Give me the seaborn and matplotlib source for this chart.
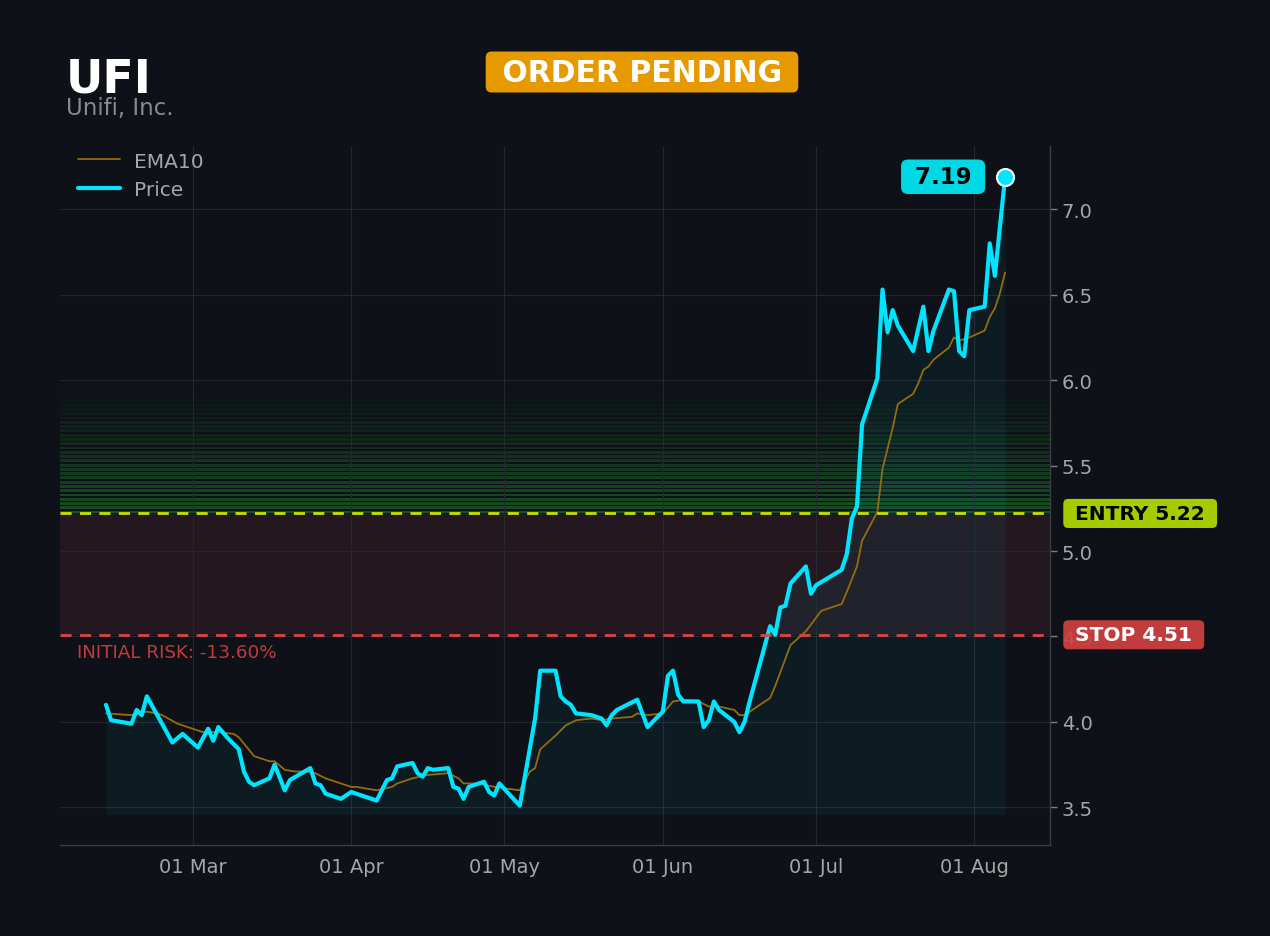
import matplotlib
matplotlib.use("Agg")
import matplotlib.pyplot as plt
import matplotlib.dates as mdates
import matplotlib.transforms as mtransforms
import seaborn as sns
import pandas as pd

# Daten
ticker = "UFI"
company = "Unifi, Inc."
status = "ORDER PENDING"
entry = 5.22
stop = 4.51
risk_text = "INITIAL RISK: -13.60%"

price_dates = [
    "2025-02-12", "2025-02-13", "2025-02-17", "2025-02-18", "2025-02-19", "2025-02-20", "2025-02-25", "2025-02-27",
    "2025-03-02", "2025-03-04", "2025-03-05", "2025-03-06", "2025-03-08", "2025-03-10", "2025-03-11", "2025-03-12",
    "2025-03-13", "2025-03-16", "2025-03-17", "2025-03-19", "2025-03-20", "2025-03-24", "2025-03-25", "2025-03-26",
    "2025-03-27", "2025-03-30",
    "2025-04-01", "2025-04-06", "2025-04-08", "2025-04-09", "2025-04-10", "2025-04-13", "2025-04-14", "2025-04-15",
    "2025-04-16", "2025-04-17", "2025-04-20", "2025-04-21", "2025-04-22", "2025-04-23", "2025-04-24", "2025-04-27",
    "2025-04-28", "2025-04-29", "2025-04-30",
    "2025-05-04", "2025-05-07", "2025-05-08", "2025-05-11", "2025-05-12", "2025-05-13", "2025-05-14", "2025-05-15",
    "2025-05-18", "2025-05-20", "2025-05-21", "2025-05-22", "2025-05-23", "2025-05-27", "2025-05-29",
    "2025-06-01", "2025-06-02", "2025-06-03", "2025-06-04", "2025-06-05", "2025-06-08", "2025-06-09", "2025-06-10",
    "2025-06-11", "2025-06-12", "2025-06-15", "2025-06-16", "2025-06-17", "2025-06-18", "2025-06-22", "2025-06-23",
    "2025-06-24", "2025-06-25", "2025-06-26", "2025-06-29", "2025-06-30",
    "2025-07-01", "2025-07-06", "2025-07-07", "2025-07-08", "2025-07-09", "2025-07-10", "2025-07-13", "2025-07-14",
    "2025-07-15", "2025-07-16", "2025-07-17", "2025-07-20", "2025-07-22", "2025-07-23", "2025-07-24", "2025-07-27",
    "2025-07-28", "2025-07-29", "2025-07-30", "2025-07-31",
    "2025-08-03", "2025-08-04", "2025-08-05", "2025-08-07",
]
price_values = [
    4.10, 4.01, 3.99, 4.07, 4.04, 4.15, 3.88, 3.93,
    3.85, 3.96, 3.89, 3.97, 3.90, 3.84, 3.71, 3.65, 3.63, 3.67, 3.75, 3.60, 3.66, 3.73, 3.64, 3.63, 3.58, 3.55,
    3.59, 3.54, 3.66, 3.67, 3.74, 3.76, 3.70, 3.68, 3.73, 3.72, 3.73, 3.62, 3.61, 3.55, 3.62, 3.65, 3.59, 3.57, 3.64,
    3.51, 4.02, 4.30, 4.30, 4.15, 4.12, 4.10, 4.05, 4.04, 4.02, 3.98, 4.04, 4.07, 4.13, 3.97,
    4.06, 4.27, 4.30, 4.16, 4.12, 4.12, 3.97, 4.01, 4.12, 4.07, 4.00, 3.94, 4.00, 4.12, 4.56, 4.51, 4.67, 4.68,
    4.81, 4.91, 4.75,
    4.80, 4.89, 4.98, 5.19, 5.26, 5.74, 6.01, 6.53, 6.28, 6.41, 6.32, 6.17, 6.43, 6.17, 6.29, 6.53, 6.52, 6.17,
    6.14, 6.41,
    6.43, 6.80, 6.61, 7.19,
]

ema_dates = [
    "2025-02-12", "2025-02-17", "2025-02-20", "2025-02-22", "2025-02-23", "2025-02-26", "2025-02-28",
    "2025-03-03", "2025-03-06", "2025-03-09", "2025-03-10", "2025-03-13", "2025-03-16", "2025-03-17", "2025-03-19",
    "2025-03-21", "2025-03-23", "2025-03-25", "2025-03-27", "2025-03-29",
    "2025-04-01", "2025-04-02", "2025-04-06", "2025-04-09", "2025-04-10", "2025-04-13", "2025-04-16", "2025-04-20",
    "2025-04-22", "2025-04-23", "2025-04-26", "2025-04-29",
    "2025-05-04", "2025-05-06", "2025-05-07", "2025-05-08", "2025-05-11", "2025-05-13", "2025-05-15", "2025-05-18",
    "2025-05-20", "2025-05-22", "2025-05-26", "2025-05-27", "2025-05-29",
    "2025-06-01", "2025-06-03", "2025-06-05", "2025-06-08", "2025-06-10", "2025-06-12", "2025-06-15", "2025-06-16",
    "2025-06-17", "2025-06-22", "2025-06-23", "2025-06-26", "2025-06-29",
    "2025-07-02", "2025-07-06", "2025-07-07", "2025-07-09", "2025-07-10", "2025-07-13", "2025-07-14", "2025-07-16",
    "2025-07-17", "2025-07-20", "2025-07-21", "2025-07-22", "2025-07-23", "2025-07-24", "2025-07-27", "2025-07-28",
    "2025-07-29", "2025-07-31",
    "2025-08-03", "2025-08-04", "2025-08-05", "2025-08-06", "2025-08-07",
]
ema_values = [
    4.05, 4.04, 4.06, 4.05, 4.04, 3.99, 3.97,
    3.94, 3.94, 3.93, 3.91, 3.80, 3.77, 3.77, 3.72, 3.71, 3.71, 3.70, 3.67, 3.65,
    3.62, 3.62, 3.60, 3.62, 3.64, 3.67, 3.69, 3.70, 3.67, 3.64, 3.64, 3.62,
    3.60, 3.71, 3.73, 3.84, 3.92, 3.98, 4.01, 4.02, 4.01, 4.02, 4.03, 4.05, 4.04,
    4.05, 4.12, 4.13, 4.12, 4.09, 4.09, 4.07, 4.04, 4.04, 4.14, 4.21, 4.45, 4.53,
    4.65, 4.69, 4.76, 4.91, 5.06, 5.23, 5.48, 5.72, 5.86, 5.92, 5.98, 6.06, 6.08, 6.12, 6.19, 6.25, 6.23, 6.25,
    6.29, 6.37, 6.42, 6.51, 6.63,
]

df_price = pd.DataFrame({"date": pd.to_datetime(price_dates), "value": price_values})
df_ema = pd.DataFrame({"date": pd.to_datetime(ema_dates), "value": ema_values})

# Farben
BG = "#0e1117"
CYAN = "#00e5ff"
GOLD = "#946c10"
GRID = "#24272d"
TXT = "#a6a6a6"
ENTRY_C = "#c6e000"
STOP_C = "#d94444"

sns.set_theme(style="dark")
plt.rcParams["font.family"] = ["DejaVu Sans"]

fig = plt.figure(figsize=(12.7, 9.37), dpi=100, facecolor=BG)
ax = fig.add_axes([60 / 1270, 1 - 846 / 937, 990 / 1270, 699 / 937])
ax.set_facecolor(BG)

# Risikozone und Zielzone
ax.axhspan(stop, entry, color="#231820", zorder=0, lw=0)
n_bands = 30
band_h = 0.025
for i in range(n_bands):
    lo = entry + i * band_h
    ax.axhspan(lo, lo + band_h * 0.65, color="#2bbf3c", alpha=0.36 * (1 - i / n_bands) ** 1.2,
               lw=0, zorder=0.5)

# Linien
ax.fill_between(df_price["date"], df_price["value"], min(price_values) * 0.985,
                color=CYAN, alpha=0.05, lw=0, zorder=1)
sns.lineplot(data=df_ema, x="date", y="value", ax=ax, color=GOLD, lw=1.3, label="EMA10", zorder=3)
sns.lineplot(data=df_price, x="date", y="value", ax=ax, color=CYAN, lw=3, label="Price", zorder=4)

ax.axhline(entry, color=ENTRY_C, lw=2, ls=(0, (4, 3)), zorder=5)
ax.axhline(stop, color=STOP_C, lw=2, ls=(0, (4, 3)), zorder=5)

# Letzter Kurs
last_d = df_price["date"].iloc[-1]
last_v = price_values[-1]
ax.scatter([last_d], [last_v], s=150, color=CYAN, edgecolor="white", linewidth=1.5, zorder=6)
ax.annotate(f" {last_v:.2f} ", xy=(last_d, last_v), xytext=(-62, 0), textcoords="offset pixels",
            ha="center", va="center", fontsize=16.5, fontweight="bold", color="black", zorder=7,
            bbox=dict(boxstyle="round,pad=0.25,rounding_size=0.3", fc="#00d8e6", ec="none"))

# Achsen
ax.set_xlim(pd.Timestamp("2025-02-03"), pd.Timestamp("2025-08-15 19:00"))
ax.set_ylim(3.28, 7.37)
ax.xaxis.set_major_locator(mdates.MonthLocator())
ax.xaxis.set_major_formatter(mdates.DateFormatter("%d %b"))
ax.yaxis.tick_right()
ax.set_yticks([3.5, 4.0, 4.5, 5.0, 5.5, 6.0, 6.5, 7.0])
ax.set_xlabel("")
ax.set_ylabel("")
ax.grid(True, color=GRID, lw=0.8)
ax.tick_params(colors="#7a7d83", labelcolor=TXT, labelsize=14, length=5, width=1)
for s in ["left", "top"]:
    ax.spines[s].set_visible(False)
for s in ["right", "bottom"]:
    ax.spines[s].set_color("#3a3d44")
    ax.spines[s].set_linewidth(1)

leg = ax.legend(loc="upper left", bbox_to_anchor=(0.0, 1.018), frameon=False, fontsize=14.5,
                labelcolor=TXT, handlelength=2.1, handletextpad=0.65, labelspacing=0.45)

# Beschriftungen
tr = mtransforms.blended_transform_factory(ax.transAxes, ax.transData)
ax.text(1.0185, entry, f" ENTRY {entry:.2f} ", transform=tr, ha="left", va="center", fontsize=14.5,
        fontweight="bold", color="black", zorder=8, clip_on=False,
        bbox=dict(boxstyle="round,pad=0.25,rounding_size=0.25", fc="#a6cc00", ec="none"))
ax.text(1.0185, stop, f" STOP {stop:.2f} ", transform=tr, ha="left", va="center", fontsize=14.5,
        fontweight="bold", color="white", zorder=8, clip_on=False,
        bbox=dict(boxstyle="round,pad=0.25,rounding_size=0.25", fc="#d04040", ec="none", alpha=0.93))
ax.annotate(risk_text, xy=(0.017, stop), xycoords=tr, xytext=(0, -17), textcoords="offset pixels",
            ha="left", va="center", fontsize=13.2, color="#c23a3c", zorder=8)

fig.text(66 / 1270, 1 - 80 / 937, ticker, ha="left", va="center", fontsize=33, fontweight="bold", color="white")
fig.text(66 / 1270, 1 - 109 / 937, company, ha="left", va="center", fontsize=16.5, color="#8a8a8a")
fig.text(642 / 1270, 1 - 73 / 937, f" {status} ", ha="center", va="center", fontsize=21.5, fontweight="bold",
         color="white", bbox=dict(boxstyle="round,pad=0.2,rounding_size=0.2", fc="#e69a00", ec="none"))

fig.savefig("out.png", dpi=100, facecolor=BG)
